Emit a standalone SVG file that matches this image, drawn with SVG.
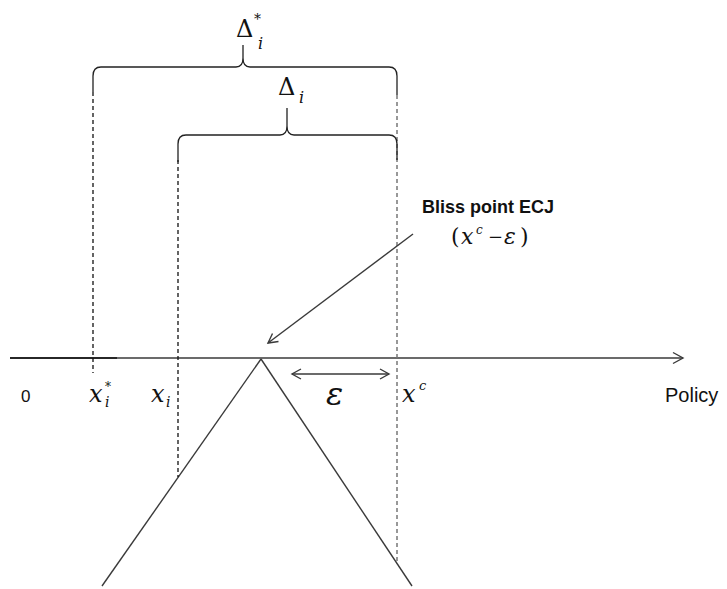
<svg xmlns="http://www.w3.org/2000/svg" width="727" height="589" viewBox="0 0 727 589">
<style>
.ln{stroke:#3a3a3a;stroke-width:1.4;fill:none}
.br{stroke:#222;stroke-width:1.3;fill:none}
.dk{stroke:#111;stroke-width:1.3;stroke-dasharray:4 3;fill:none}
.gy{stroke:#777;stroke-width:1.5;stroke-dasharray:4 3;fill:none}
.sans{font-family:"Liberation Sans",Arial,sans-serif;fill:#111}
.m{font-family:"DejaVu Serif","Liberation Serif",serif;fill:#111}
.it{font-style:italic}
</style>
<rect width="727" height="589" fill="#fff"/>
<g id="connectors">
<line class="ln" x1="10" y1="358" x2="683" y2="358"/>
<line x1="10" y1="358" x2="117" y2="358" stroke="#111" stroke-width="1.4"/>
<polyline class="ln" points="673,352.5 683,358 673,363.5"/>
<line class="ln" x1="261" y1="359" x2="102" y2="586"/>
<line class="ln" x1="261" y1="359" x2="412" y2="586"/>
<line class="dk" x1="93" y1="92" x2="93" y2="373"/>
<line class="dk" x1="178" y1="160" x2="178" y2="477"/>
<line class="gy" x1="397" y1="95" x2="397" y2="563"/>
<path class="br" d="M93,92 V76 Q93,67 101,67 H236 Q243,67 243,58 V45 M243,58 Q243,67 250,67 H389 Q397,67 397,76 V95"/>
<path class="br" d="M178,162 V144 Q178,135 186,135 H280 Q287,135 287,126 V108 M287,126 Q287,135 294,135 H389 Q397,135 397,144 V160"/>
<line class="ln" x1="292" y1="374" x2="389" y2="374"/>
<polyline class="ln" points="301,369 292,374 301,379"/>
<polyline class="ln" points="380,369 389,374 380,379"/>
<line class="ln" x1="413" y1="234" x2="268" y2="343"/>
<polyline class="ln" points="272.5,333.5 268,343 278.5,341.5"/>
</g>
<g id="delta-star">
<text class="m" x="236" y="37" font-size="24">Δ</text>
<text class="m it" x="258" y="49" font-size="16">i</text>
<text class="m" x="254" y="24" font-size="14">*</text>
</g>
<g id="delta">
<text class="m" x="278" y="95" font-size="24">Δ</text>
<text class="m it" x="299" y="103" font-size="16">i</text>
</g>
<g id="bliss-label">
<text class="sans" x="422" y="213" font-size="18" font-weight="bold">Bliss point ECJ</text>
<text class="m" x="451" y="244" font-size="22">(</text>
<text class="m it" x="461" y="244" font-size="22">x</text>
<text class="m it" x="476" y="234" font-size="12">c</text>
<text class="m" x="488" y="243" font-size="18">−</text>
<text class="m it" x="504" y="244" font-size="22">ε</text>
<text class="m" x="520" y="244" font-size="22">)</text>
</g>
<g id="axis-labels">
<text class="sans" x="21" y="402" font-size="17">0</text>
<text class="m it" x="89" y="402" font-size="24">x</text>
<text class="m it" x="105" y="407" font-size="14">i</text>
<text class="m" x="105" y="391" font-size="12" fill="#555">*</text>
<text class="m it" x="151" y="402" font-size="24">x</text>
<text class="m it" x="166" y="407" font-size="14">i</text>
<text class="m it" x="402" y="402" font-size="24">x</text>
<text class="m it" x="419" y="390" font-size="13">c</text>
<text class="m it" x="326" y="405" font-size="32">ε</text>
<text class="sans" x="665" y="402" font-size="20">Policy</text>
</g>
</svg>
